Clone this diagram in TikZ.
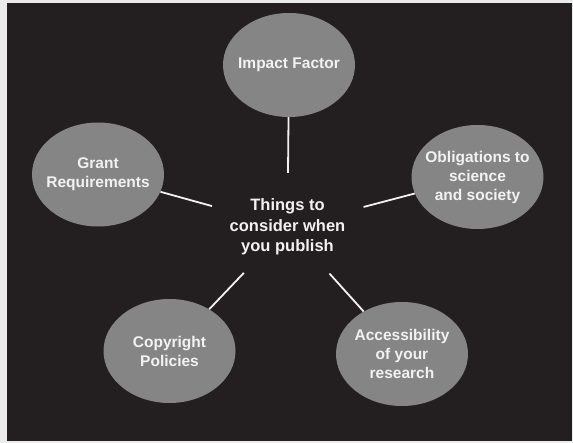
\documentclass[tikz,border=0pt]{standalone}
\usepackage{fontspec}
\setmainfont{Liberation Sans}
\usetikzlibrary{shapes.geometric}
\definecolor{bgdark}{HTML}{231F20}
\definecolor{bubblegrey}{HTML}{858585}
\definecolor{paper}{HTML}{EBEBEB}
\definecolor{ink}{HTML}{F2F2F2}
\begin{document}
\begin{tikzpicture}[x=1pt,y=-1pt,
  bubble/.style={ellipse, fill=bubblegrey, minimum width=132pt, minimum height=104pt,
    inner sep=0pt},
  bubbletext/.style={inner sep=0pt, text=ink, align=center,
    font=\bfseries\fontsize{15.5}{19}\selectfont},
  hub/.style={ellipse, minimum width=136pt, minimum height=108pt, inner sep=0pt,
    text=ink, align=center, font=\bfseries\fontsize{16.5}{20.5}\selectfont},
  link/.style={draw=ink, line width=1.8pt}]
\useasboundingbox (0,0) rectangle (573,443);
\fill[paper] (0,0) rectangle (573,443);
\fill[bgdark] (7,3) rectangle (572,441);
\node[hub] (hub) at (287.5,227) {Things to\\consider when\\you publish};
\node[bubble] (impact) at (289,65) {};
\node[bubble] (grant) at (98,174.5) {};
\node[bubble] (oblig) at (477.5,177) {};
\node[bubble] (copy) at (169.5,351) {};
\node[bubble] (access) at (402,354) {};
\node[bubbletext] (impact-t) at (impact) {Impact Factor};
\node[bubbletext] (grant-t) at (grant) {Grant\\Requirements};
\node[bubbletext] (oblig-t) at (oblig) {Obligations to\\science\\and society};
\node[bubbletext] (copy-t) at (copy) {Copyright\\Policies};
\node[bubbletext] (access-t) at (access) {Accessibility\\of your\\research};
\draw[link] (impact) -- (hub);
\draw[link] (grant) -- (hub);
\draw[link] (oblig) -- (hub);
\draw[link] (copy) -- (hub);
\draw[link] (access) -- (hub);
\end{tikzpicture}
\end{document}
